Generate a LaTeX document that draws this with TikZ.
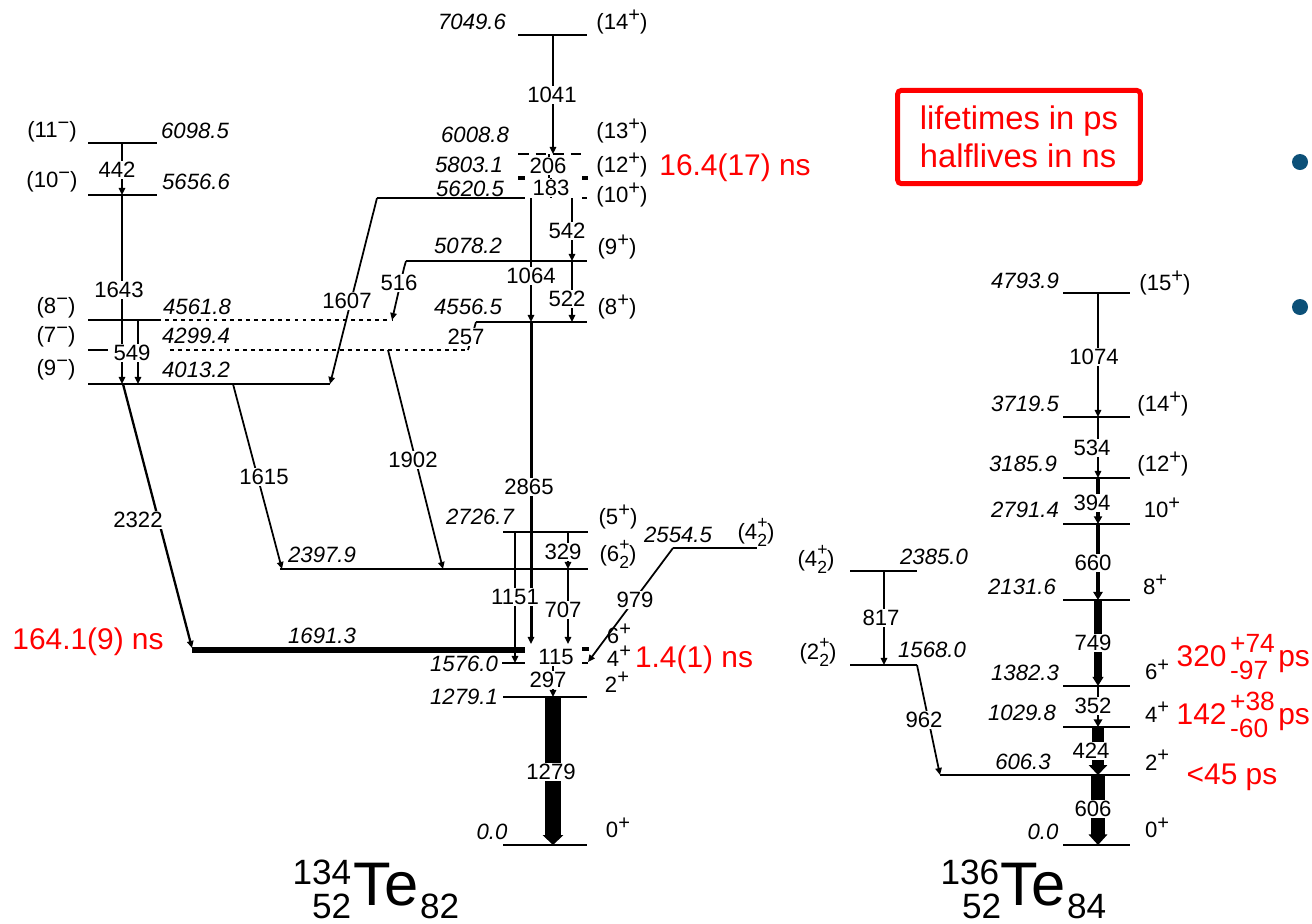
\documentclass[tikz,border=0pt]{standalone}
\usepackage{fontspec}
\setmainfont{Liberation Sans}
\usetikzlibrary{arrows.meta}
\definecolor{bulletblue}{RGB}{12,80,120}
\newcommand{\lab}{\fontsize{6.3}{7}\selectfont}
\newcommand{\redlab}{\fontsize{8.5}{10}\selectfont}
\newcommand{\redsmall}{\fontsize{7.5}{8.5}\selectfont}
\newcommand{\boxlab}{\fontsize{9.3}{10.8}\selectfont}
\newcommand{\sps}[1]{\raisebox{0.38em}{\fontsize{5.7}{5}\selectfont#1}}
\newcommand{\hisps}[1]{\raisebox{0.5em}{\fontsize{5}{5}\selectfont#1}}
\newcommand{\sbs}[1]{\raisebox{-0.32em}{\fontsize{5}{5}\selectfont#1}}
\newcommand{\jp}[1]{#1\sps{+}}
\newcommand{\jm}[1]{#1\sps{−}}
\newcommand{\jtwo}[1]{#1\rlap{\hisps{+}}\sbs{2}}
\begin{document}
\begin{tikzpicture}[x=0.01cm,y=-0.01cm,
    lvl/.style={line width=0.5pt},
    dotlvl/.style={line width=0.5pt,dash pattern=on 1.1pt off 1.2pt},
    gam/.style={line width=0.5pt,-{Triangle[length=2pt,width=1.8pt]}},
    glab/.style={fill=white,inner sep=0.3pt,font=\lab},
    elab/.style={inner sep=0pt,font=\lab\itshape},
    jlab/.style={inner sep=0pt,font=\lab},
    tlab/.style={inner sep=0pt,font=\redlab,text=red}]
  \useasboundingbox (0,0) rectangle (1312,923);
  % 134Te levels
  \draw[lvl] (88,143) -- (157,143);
  \draw[lvl] (88,195) -- (157,195);
  \draw[lvl] (88,320) -- (157,320);
  \draw[dotlvl] (157,320) -- (392,320);
  \draw[lvl] (88,350) -- (108,350);
  \draw[dotlvl] (170,350) -- (468,350);
  \draw[lvl] (88,384) -- (330,384);
  \draw[lvl] (518,35) -- (587,35);
  \draw[lvl,densely dashed] (518,154) -- (588,154);
  \draw[line width=0.9pt] (518,178) -- (525,178) (582,178) -- (588,178);
  \draw[lvl] (377,198) -- (525,198) (582,198) -- (587,198);
  \draw[lvl] (406,261) -- (587,261);
  \draw[lvl] (476,322) -- (587,322);
  \draw[lvl] (503,532) -- (588,532);
  \draw[lvl] (280,569) -- (588,569);
  \draw[lvl] (673,548) -- (757,548);
  \draw[line width=1.7pt] (192,650) -- (525,650);
  \draw[line width=1.3pt] (582,649) -- (589,649);
  \draw[lvl] (502,663) -- (525,663) (582,663) -- (588,663);
  \draw[lvl] (503,697) -- (587,697);
  \draw[lvl] (503,845) -- (587,845);
  % 134Te transitions
  \draw[gam] (122,143) -- (122,195);
  \draw[gam,line width=0.7pt] (122,195) -- (122,384);
  \draw[gam] (138,320) -- (138,384);
  \draw[gam,line width=0.65pt] (123,384) -- (192,648);
  \draw[gam] (233,384) -- (282,569);
  \draw[gam] (377,198) -- (330,384);
  \draw[gam] (406,261) -- (404,268) -- (392,320);
  \draw[lvl] (476,322) -- (468,350);
  \draw[gam] (388,350) -- (443,569);
  \draw[gam] (553,35) -- (553,154);
  \draw[lvl] (549,154) -- (549,178);
  \draw[lvl] (551,178) -- (551,198);
  \draw[gam,line width=0.6pt] (531,198) -- (531,322);
  \draw[gam,line width=0.6pt] (572,198) -- (572,261);
  \draw[gam,line width=0.6pt] (572,261) -- (572,322);
  \draw[gam,line width=0.85pt] (531,322) -- (531,644);
  \draw[gam] (568,532) -- (568,569);
  \draw[gam,line width=0.7pt] (568,569) -- (568,644);
  \draw[gam] (515,532) -- (515,663);
  \draw[gam] (673,548) -- (588,662);
  \draw[lvl] (556,650) -- (556,663);
  \draw[gam] (553,663) -- (553,697);
  \draw[line width=4.3pt,-{Triangle[length=2.8pt,width=5.7pt]}] (553,697) -- (553,845);
  % 136Te levels and transitions
  \draw[lvl] (850,571) -- (917,571);
  \draw[lvl] (850,665) -- (917,665);
  \draw[gam] (884,571) -- (884,665);
  \draw[gam] (917,665) -- (940,775);
  \foreach \y in {293,417,478,524,600,686,727,845}
    \draw[lvl] (1063,\y) -- (1130,\y);
  \draw[lvl] (940,775) -- (1130,775);
  \draw[gam,line width=0.55pt] (1098,293) -- (1098,417);
  \draw[gam,line width=0.7pt] (1098,417) -- (1098,478);
  \draw[line width=0.9pt,-{Triangle[length=2.2pt,width=2.3pt]}] (1098,478) -- (1098,524);
  \draw[line width=1.2pt,-{Triangle[length=2.3pt,width=2.6pt]}] (1098,524) -- (1098,600);
  \draw[line width=2pt,-{Triangle[length=2.6pt,width=3pt]}] (1098,600) -- (1098,686);
  \draw[line width=0.8pt,-{Triangle[length=2.2pt,width=2.4pt]}] (1098,686) -- (1098,727);
  \draw[line width=3.4pt,-{Triangle[length=2.8pt,width=5.1pt]}] (1098,727) -- (1098,775);
  \draw[line width=4pt,-{Triangle[length=3pt,width=5.2pt]}] (1098,775) -- (1098,845);
  % gamma energies
  \node[glab] (g442)  at (117,170) {442};
  \node[glab] (g1643) at (119,290) {1643};
  \node[glab] (g549)  at (132,353) {549};
  \node[glab] (g2322) at (138,520) {2322};
  \node[glab] (g1615) at (264,477) {1615};
  \node[glab] (g1607) at (347,301) {1607};
  \node[glab] (g516)  at (399,283) {516};
  \node[glab] (g257)  at (466,337) {257};
  \node[glab] (g1902) at (413,460) {1902};
  \node[glab] (g1041) at (552,95)  {1041};
  \node[glab] (g206)  at (548,166) {206};
  \node[glab] (g183)  at (551,188) {183};
  \node[glab] (g1064) at (531,276) {1064};
  \node[glab] (g542)  at (567,231) {542};
  \node[glab] (g522)  at (567,299) {522};
  \node[glab] (g2865) at (529,487) {2865};
  \node[glab] (g1151) at (515,597) {1151};
  \node[glab] (g329)  at (563,552) {329};
  \node[glab] (g707)  at (563,610) {707};
  \node[glab] (g979)  at (635,600) {979};
  \node[glab] (g115)  at (556,657) {115};
  \node[glab] (g297)  at (548,680) {297};
  \node[glab] (g1279) at (551,772) {1279};
  \node[glab] (g817)  at (881,618) {817};
  \node[glab] (g962)  at (924,720) {962};
  \node[glab] (g1074) at (1094,357) {1074};
  \node[glab] (g534)  at (1092,448) {534};
  \node[glab] (g394)  at (1092,503) {394};
  \node[glab] (g660)  at (1093,563) {660};
  \node[glab] (g749)  at (1093,643) {749};
  \node[glab] (g352)  at (1093,706) {352};
  \node[glab] (g424)  at (1091,751) {424};
  \node[glab] (g606)  at (1093,809) {606};
  % level energies and spins, 134Te
  \node[jlab] (j11m) at (52,132) {(\jm{11})};  \node[elab] (e6098) at (195,131) {6098.5};
  \node[jlab] (j10m) at (52,182) {(\jm{10})};  \node[elab] (e5656) at (196,182) {5656.6};
  \node[jlab] (j8m)  at (56,308) {(\jm{8})};   \node[elab] (e4561) at (197,307) {4561.8};
  \node[jlab] (j7m)  at (56,337) {(\jm{7})};   \node[elab] (e4299) at (196,336) {4299.4};
  \node[jlab] (j9m)  at (56,370) {(\jm{9})};   \node[elab] (e4013) at (196,370) {4013.2};
  \node[elab] (e7049) at (472,22)  {7049.6};  \node[jlab] (j14p) at (622,22)  {(\jp{14})};
  \node[elab] (e6008) at (475,135) {6008.8};  \node[jlab] (j13p) at (622,131) {(\jp{13})};
  \node[elab] (e5803) at (469,165) {5803.1};  \node[jlab] (j12p) at (622,165) {(\jp{12})};
  \node[elab] (e5620) at (470,189) {5620.5};  \node[jlab] (j10p) at (622,195) {(\jp{10})};
  \node[elab] (e5078) at (468,246) {5078.2};  \node[jlab] (j9p)  at (617,247) {(\jp{9})};
  \node[elab] (e4556) at (468,307) {4556.5};  \node[jlab] (j8p)  at (617,307) {(\jp{8})};
  \node[elab] (e2726) at (480,517) {2726.7};  \node[jlab] (j5p)  at (618,517) {(\jp{5})};
  \node[elab] (e2397) at (322,555) {2397.9};  \node[jlab] (j6b)  at (618,554) {(\jtwo{6})};
  \node[elab] (e2554) at (678,535) {2554.5};  \node[jlab] (j4b)  at (756,532) {(\jtwo{4})};
  \node[elab] (e1691) at (322,636) {1691.3};  \node[jlab] (j6p)  at (619,634) {\jp{6}};
  \node[elab] (e1576) at (464,664) {1576.0};  \node[jlab] (j4p)  at (619,656) {\jp{4}};
  \node[elab] (e1279) at (464,697) {1279.1};  \node[jlab] (j2p)  at (617,682) {\jp{2}};
  \node[elab] (e0a)   at (492,832) {0.0};     \node[jlab] (j0p)  at (618,828) {\jp{0}};
  % level energies and spins, 136Te
  \node[jlab] (k4b) at (816,559) {(\jtwo{4})};  \node[elab] (f2385) at (934,557) {2385.0};
  \node[jlab] (k2b) at (818,652) {(\jtwo{2})};  \node[elab] (f1568) at (932,650) {1568.0};
  \node[elab] (f4793) at (1025,281) {4793.9};  \node[jlab] (k15p) at (1165,283) {(\jp{15})};
  \node[elab] (f3719) at (1025,404) {3719.5};  \node[jlab] (k14p) at (1163,404) {(\jp{14})};
  \node[elab] (f3185) at (1023,464) {3185.9};  \node[jlab] (k12p) at (1163,464) {(\jp{12})};
  \node[elab] (f2791) at (1025,510) {2791.4};  \node[jlab] (k10p) at (1162,508) {\jp{10}};
  \node[elab] (f2131) at (1022,587) {2131.6};  \node[jlab] (k8p)  at (1155,585) {\jp{8}};
  \node[elab] (f1382) at (1025,673) {1382.3};  \node[jlab] (k6p)  at (1157,670) {\jp{6}};
  \node[elab] (f1029) at (1022,713) {1029.8};  \node[jlab] (k4p)  at (1157,712) {\jp{4}};
  \node[elab] (f606)  at (1023,762) {606.3};   \node[jlab] (k2p)  at (1157,760) {\jp{2}};
  \node[elab] (f0)    at (1043,832) {0.0};     \node[jlab] (k0p)  at (1157,828) {\jp{0}};
  % lifetimes
  \node[tlab] (t164) at (88,642)  {164.1(9) ns};
  \node[tlab] (t16)  at (735,168) {16.4(17) ns};
  \node[tlab] (t14)  at (694,660) {1.4(1) ns};
  \node[tlab,anchor=west] (t320) at (1176,660)
    {320\kern1pt{\redsmall\begin{tabular}{@{}l@{}}+74\\[-1pt]-97\end{tabular}}\kern1pt ps};
  \node[tlab,anchor=west] (t142) at (1176,718)
    {142\kern1pt{\redsmall\begin{tabular}{@{}l@{}}+38\\[-1pt]-60\end{tabular}}\kern1pt ps};
  \node[tlab] (t45) at (1232,777) {<45 ps};
  \node[draw=red,line width=1.4pt,rounded corners=1pt,minimum width=69pt,
    minimum height=26.5pt,align=left,font=\boxlab,text=red,inner sep=0pt]
    (note) at (1019,137) {lifetimes in ps\\halflives in ns};
  \fill[bulletblue] (1300,162) circle[radius=8];
  \fill[bulletblue] (1300,307) circle[radius=8];
  % nuclide names
  \node[anchor=base west,inner sep=0pt,font=\fontsize{17.5}{19}\selectfont] (te134) at (353,905) {Te};
  \node[anchor=base east,inner sep=0pt,font=\fontsize{10}{11}\selectfont] (te134a) at (352,884) {134};
  \node[anchor=base east,inner sep=0pt,font=\fontsize{10}{11}\selectfont] (te134z) at (352,918) {52};
  \node[anchor=base west,inner sep=0pt,font=\fontsize{10}{11}\selectfont] (te134n) at (te134.base east |- 0,918) {82};
  \node[anchor=base west,inner sep=0pt,font=\fontsize{17.5}{19}\selectfont] (te136) at (1000,905) {Te};
  \node[anchor=base east,inner sep=0pt,font=\fontsize{10}{11}\selectfont] (te136a) at (1000,884) {136};
  \node[anchor=base east,inner sep=0pt,font=\fontsize{10}{11}\selectfont] (te136z) at (1002,918) {52};
  \node[anchor=base west,inner sep=0pt,font=\fontsize{10}{11}\selectfont] (te136n) at (te136.base east |- 0,918) {84};
\end{tikzpicture}
\end{document}
